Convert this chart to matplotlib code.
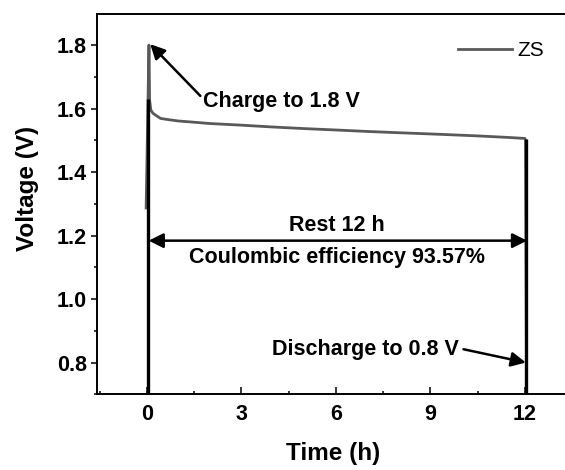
import matplotlib
matplotlib.use("Agg")
import matplotlib.pyplot as plt
from matplotlib.ticker import MultipleLocator

plt.rcParams['font.family'] = ['Liberation Sans', 'DejaVu Sans']

# ZS voltage profile (time in h, voltage in V)
time_h = [-0.02, 0.07, 0.09, 0.13, 0.2, 0.3, 0.44, 0.7, 1.0, 1.39, 2.0, 2.97,
          4.0, 5.0, 6.14, 7.0, 8.0, 9.3, 10.5, 11.5, 12.0, 12.02, 12.05]
voltage = [1.287, 1.80, 1.627, 1.595, 1.585, 1.578, 1.569, 1.565, 1.561, 1.558,
           1.553, 1.548, 1.542, 1.537, 1.532, 1.528, 1.524, 1.519, 1.514, 1.509,
           1.506, 1.50, 0.80]

# black boundary lines marking start / end of the rest period
boundary_t = [0.03, 12.05]
boundary_top = [1.63, 1.505]

x_ticks = [0, 3, 6, 9, 12]
y_ticks = [0.8, 1.0, 1.2, 1.4, 1.6, 1.8]

W, H = 565, 470
fig = plt.figure(figsize=(W / 100, H / 100), dpi=100)
L, R, T, B = 97.3, 569.0, 14.0, 394.3
ax = fig.add_axes([L / W, 1 - B / H, (R - L) / W, (B - T) / H])

ax.set_xlim(-1.57, 13.4)
ax.set_ylim(0.7, 1.898)

ax.vlines(boundary_t, 0.7, boundary_top, colors='black', lw=2.4, zorder=3)
ax.plot(time_h, voltage, color='#595959', lw=2.0, label='ZS', zorder=2)

ax.set_xticks(x_ticks)
ax.set_yticks(y_ticks)
ax.set_xticklabels([str(v) for v in x_ticks])
ax.set_yticklabels([f"{v:.1f}" for v in y_ticks])
ax.xaxis.set_minor_locator(MultipleLocator(1.5))
ax.yaxis.set_minor_locator(MultipleLocator(0.1))
ax.tick_params(axis='x', which='major', direction='in', length=5, width=1.1,
               labelsize=15.5, pad=7)
ax.tick_params(axis='x', which='minor', direction='in', length=2.5, width=1.1)
ax.tick_params(axis='y', which='major', direction='out', length=4.5, width=1.1,
               labelsize=15.5, pad=3)
ax.tick_params(axis='y', which='minor', direction='out', length=2.5, width=1.1)
for lab in ax.get_xticklabels() + ax.get_yticklabels():
    lab.set_fontweight('bold')
for s in ax.spines.values():
    s.set_linewidth(1.4)

ax.set_xlabel('Time (h)', fontsize=17.5, fontweight='bold', labelpad=12)
ax.set_ylabel('Voltage (V)', fontsize=17.5, fontweight='bold')
ax.yaxis.set_label_coords(-0.124, 0.541)

fs = 15.5
arrow = dict(arrowstyle='-|>', mutation_scale=22, lw=1.8, color='black',
             shrinkA=0, shrinkB=0)
# Charge annotation
ax.annotate('', xy=(0.11, 1.803), xytext=(1.70, 1.64), arrowprops=arrow)
ax.text(1.79, 1.622, 'Charge to 1.8 V', fontsize=fs, fontweight='bold',
        ha='left', va='center')
# Rest annotation
darrow = dict(arrowstyle='<|-|>', mutation_scale=22, lw=1.8, color='black',
              shrinkA=0, shrinkB=0)
ax.annotate('', xy=(12.07, 1.184), xytext=(0.06, 1.184), arrowprops=darrow)
ax.text(6.03, 1.231, 'Rest 12 h', fontsize=fs, fontweight='bold',
        ha='center', va='center')
ax.text(6.03, 1.132, 'Coulombic efficiency 93.57%', fontsize=fs,
        fontweight='bold', ha='center', va='center')
# Discharge annotation
ax.annotate('', xy=(12.03, 0.80), xytext=(10.05, 0.842), arrowprops=arrow)
ax.text(3.98, 0.842, 'Discharge to 0.8 V', fontsize=fs, fontweight='bold',
        ha='left', va='center')

leg = ax.legend(loc='center left', bbox_to_anchor=(458 / W, 1 - 50.7 / H),
                bbox_transform=fig.transFigure, frameon=False, fontsize=15,
                handlelength=2.6, handletextpad=0.25, borderpad=0,
                borderaxespad=0)

fig.savefig('out.png', dpi=100)
